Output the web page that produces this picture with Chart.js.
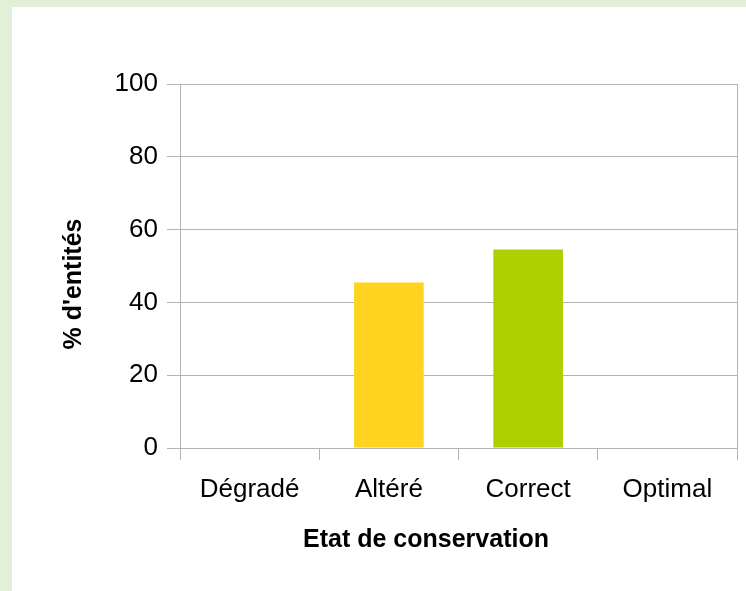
<!DOCTYPE html>
<html>
<head>
<meta charset="utf-8">
<script src="https://cdn.jsdelivr.net/npm/chart.js@4"></script>
<style>
html, body { margin: 0; padding: 0; background: #e2efd9; width: 746px; height: 591px; overflow: hidden; }
#panel { position: absolute; left: 12px; top: 7px; width: 734px; height: 584px; background: #fff; }
</style>
</head>
<body>
<div id="panel"><canvas id="chart" width="734" height="584"></canvas></div>
<script>
let categories = ['Dégradé', 'Altéré', 'Correct', 'Optimal']
let values = [0, 45.5, 54.5, 0]
let barColors = ['#004586', '#ffd320', '#aecf00', '#ff420e']
let yMin = 0
let yMax = 100
let yStep = 20
let xTitle = 'Etat de conservation'
let yTitle = "% d'entités"

let lineColor = '#b3b3b3'
let fontFamily = '"Liberation Sans", Arial, sans-serif'

// right border of the plot area and the two axis titles
let framePlugin = {
	id: 'frame',
	afterDraw: function (chart) {
		let ctx = chart.ctx
		let area = chart.chartArea
		ctx.save()
		ctx.strokeStyle = lineColor
		ctx.lineWidth = 1
		let rx = Math.round(area.right) + 0.5
		ctx.beginPath()
		ctx.moveTo(rx, area.top)
		ctx.lineTo(rx, area.bottom + 12)
		ctx.stroke()

		ctx.fillStyle = '#000'
		ctx.font = 'bold 25px ' + fontFamily
		ctx.textAlign = 'center'
		ctx.textBaseline = 'middle'
		ctx.fillText(xTitle, 414, 533.5)
		ctx.translate(62.5, 277)
		ctx.rotate(-Math.PI / 2)
		ctx.fillText(yTitle, 0, 0)
		ctx.restore()
	},
}

let canvas = document.getElementById('chart')
let chart = new Chart(canvas, {
	type: 'bar',
	data: {
		labels: categories,
		datasets: [
			{
				data: values,
				backgroundColor: barColors,
				borderWidth: 0,
				barPercentage: 0.5,
				categoryPercentage: 1,
			},
		],
	},
	options: {
		responsive: false,
		animation: false,
		devicePixelRatio: 1,
		layout: {
			padding: { top: 77, right: 9, left: 0, bottom: 0 },
		},
		plugins: {
			legend: { display: false },
			tooltip: { enabled: false },
		},
		scales: {
			x: {
				grid: {
					drawOnChartArea: false,
					tickLength: 12,
					color: lineColor,
				},
				border: { color: lineColor },
				ticks: {
					color: '#000',
					padding: 14,
					font: { family: fontFamily, size: 26 },
				},
				afterFit: function (scale) {
					scale.height = 143
				},
			},
			y: {
				min: yMin,
				max: yMax,
				grid: {
					tickLength: 13,
					color: lineColor,
				},
				border: { color: lineColor },
				ticks: {
					stepSize: yStep,
					color: '#000',
					padding: 9,
					font: { family: fontFamily, size: 26 },
				},
				afterFit: function (scale) {
					scale.width = 168
				},
			},
		},
	},
	plugins: [framePlugin],
})
</script>
</body>
</html>
